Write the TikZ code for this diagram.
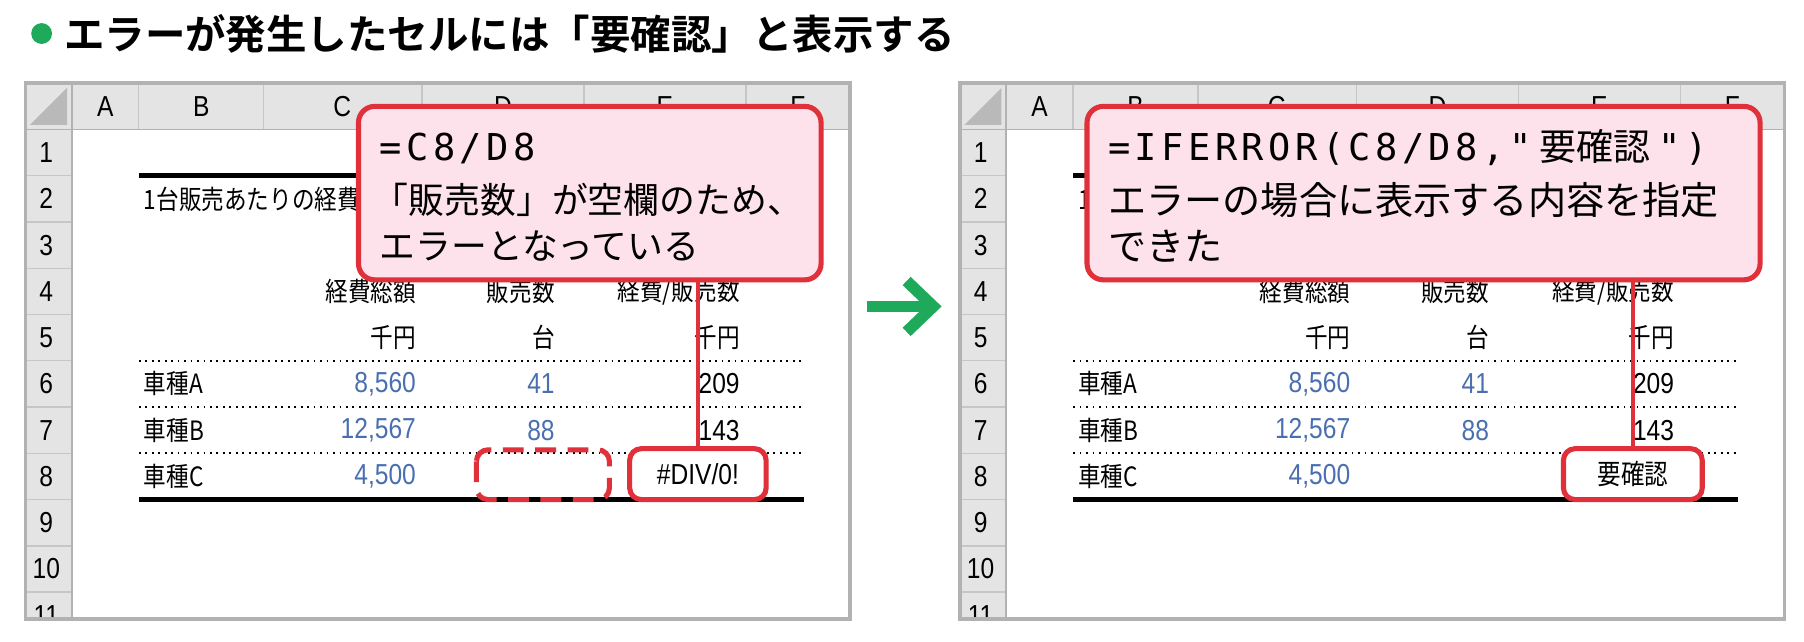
\documentclass[tikz,border=0pt]{standalone}
\usepackage{fontspec}
\setmainfont{Liberation Sans}
\newfontfamily\jp{Noto Sans CJK JP}
\newfontfamily\jpb{Noto Sans CJK JP Bold}
\newfontfamily\jpn[FakeStretch=0.85]{Noto Sans CJK JP}
\newfontfamily\narrow[FakeStretch=0.85]{Liberation Sans}
\newfontfamily\mono[LetterSpace=12]{DejaVu Sans Mono}
\definecolor{errred}{HTML}{E0303A}
\definecolor{pinkfill}{HTML}{FDE2EC}
\definecolor{hdrgray}{HTML}{E4E4E4}
\definecolor{numblue}{HTML}{4A6FB0}
\definecolor{okgreen}{HTML}{1EAA5A}
\tikzset{
  cell/.style={inner sep=0pt,font=\narrow\fontsize{12.5pt}{12.5pt}\selectfont},
  cjk/.style={inner sep=0pt,font=\jpn\fontsize{11.5pt}{11.5pt}\selectfont},
  num/.style={cell,text=numblue},
  callout/.style={draw=errred,line width=2.2pt,fill=pinkfill,rounded corners=7pt},
  errbox/.style={draw=errred,line width=2.2pt,rounded corners=5pt,fill=white},
  lead/.style={draw=errred,line width=1.6pt},
  ctext/.style={anchor=west,inner sep=0pt,font=\jp\fontsize{15.5pt}{15.5pt}\selectfont},
}
\newcommand\drawsheet[1]{%
 \begin{scope}[xshift=#1*0.5pt]
  \fill[hdrgray] (22,72) rectangle (735,112);
  \fill[hdrgray] (22,72) rectangle (62,535);
  \fill[white] (62,112) rectangle (735,535);
  \fill[gray!55] (58,76) -- (58,108) -- (26,108) -- cycle;
  \foreach \x in {62,120,228,365,505,645} \draw[gray!45,line width=0.6pt] (\x,72) -- (\x,112);
  \foreach \k in {1,...,10} \draw[gray!45,line width=0.6pt] (22,112+40*\k) -- (62,112+40*\k);
  \draw[gray!60,line width=0.8pt] (62,72) -- (62,535) (22,112) -- (735,112);
  \foreach \c/\x in {A/91,B/174,C/296,D/435,E/575,F/690} \node[cell] at (\x,92) {\c};
  \begin{scope}
  \clip (22,112) rectangle (62,535);
  \foreach \k in {1,...,11} \node[cell] at (40,132+40*\k-40) {\k};
  \end{scope}
  \draw[line width=2pt] (120,152) -- (695,152);
  \node[cjk,anchor=west] at (124,172) {1台販売あたりの経費};
  \node[cjk,anchor=east] at (360,252) {経費総額};
  \node[cjk,anchor=east] at (480,252) {販売数};
  \node[cjk,anchor=east] at (640,252) {経費/販売数};
  \node[cjk,anchor=east] at (360,292) {千円};
  \node[cjk,anchor=east] at (480,292) {台};
  \node[cjk,anchor=east] at (640,292) {千円};
  \foreach \y in {312,352,392} \draw[line width=0.8pt,dotted] (120,\y) -- (695,\y);
  \node[cjk,anchor=west] at (124,332) {車種A};
  \node[cjk,anchor=west] at (124,372) {車種B};
  \node[cjk,anchor=west] at (124,412) {車種C};
  \node[num,anchor=east] at (360,332) {8,560};
  \node[num,anchor=east] at (360,372) {12,567};
  \node[num,anchor=east] at (360,412) {4,500};
  \node[num,anchor=east] at (480,332) {41};
  \node[num,anchor=east] at (480,372) {88};
  \node[cell,anchor=east] at (640,332) {209};
  \node[cell,anchor=east] at (640,372) {143};
  \draw[line width=2pt] (120,432) -- (695,432);
  \draw[gray!60,line width=1.6pt] (22,72) rectangle (735,535);
 \end{scope}}
\begin{document}
\begin{tikzpicture}[x=0.5pt,y=-0.5pt]
\useasboundingbox (0,0) rectangle (1560,555);
\fill[white] (0,0) rectangle (1560,555);
\fill[okgreen] (36,29) circle (9);
\node[anchor=west,inner sep=0pt,font=\jpb\fontsize{17.5pt}{17.5pt}\selectfont] (title) at (55,29) {エラーが発生したセルには「要確認」と表示する};
\drawsheet{0}
\drawsheet{808}
\draw[errred,line width=2.2pt,dash pattern=on 9pt off 5pt,rounded corners=5pt] (412,389) rectangle (527,432);
\node[errbox,minimum width=59pt,minimum height=22pt,inner sep=0pt,font=\narrow\fontsize{12.5pt}{12.5pt}\selectfont] (errL) at (603.5,410) {\#DIV/0!};
\node[callout,minimum width=200pt,minimum height=75pt] (calL) at (510,167) {};
\node[ctext,font=\mono\fontsize{16pt}{16pt}\selectfont] at (328,128) {=C8/D8};
\node[ctext] at (322,173) {「販売数」が空欄のため、};
\node[ctext] at (328,213) {エラーとなっている};
\draw[lead] (errL.north) -- (errL.north |- calL.south);
\draw[okgreen,line width=5pt] (750,265) -- (805,265);
\draw[okgreen,line width=5pt,line join=miter] (784,243) -- (807,265) -- (784,287);
\node[errbox,minimum width=60pt,minimum height=22pt,inner sep=0pt,font=\jpn\fontsize{12pt}{12pt}\selectfont] (errR) at (1412,410) {要確認};
\node[callout,minimum width=291pt,minimum height=75pt] (calR) at (1231,167) {};
\node[ctext,font=\mono\fontsize{16pt}{16pt}\selectfont] at (958,128) {=IFERROR(C8/D8,"{\jp\ 要確認\ }")};
\node[ctext,font=\jp\fontsize{16.5pt}{16.5pt}\selectfont] at (958,173) {エラーの場合に表示する内容を指定};
\node[ctext,font=\jp\fontsize{16.5pt}{16.5pt}\selectfont] at (958,213) {できた};
\draw[lead] (errR.north) -- (errR.north |- calR.south);
\end{tikzpicture}
\end{document}
